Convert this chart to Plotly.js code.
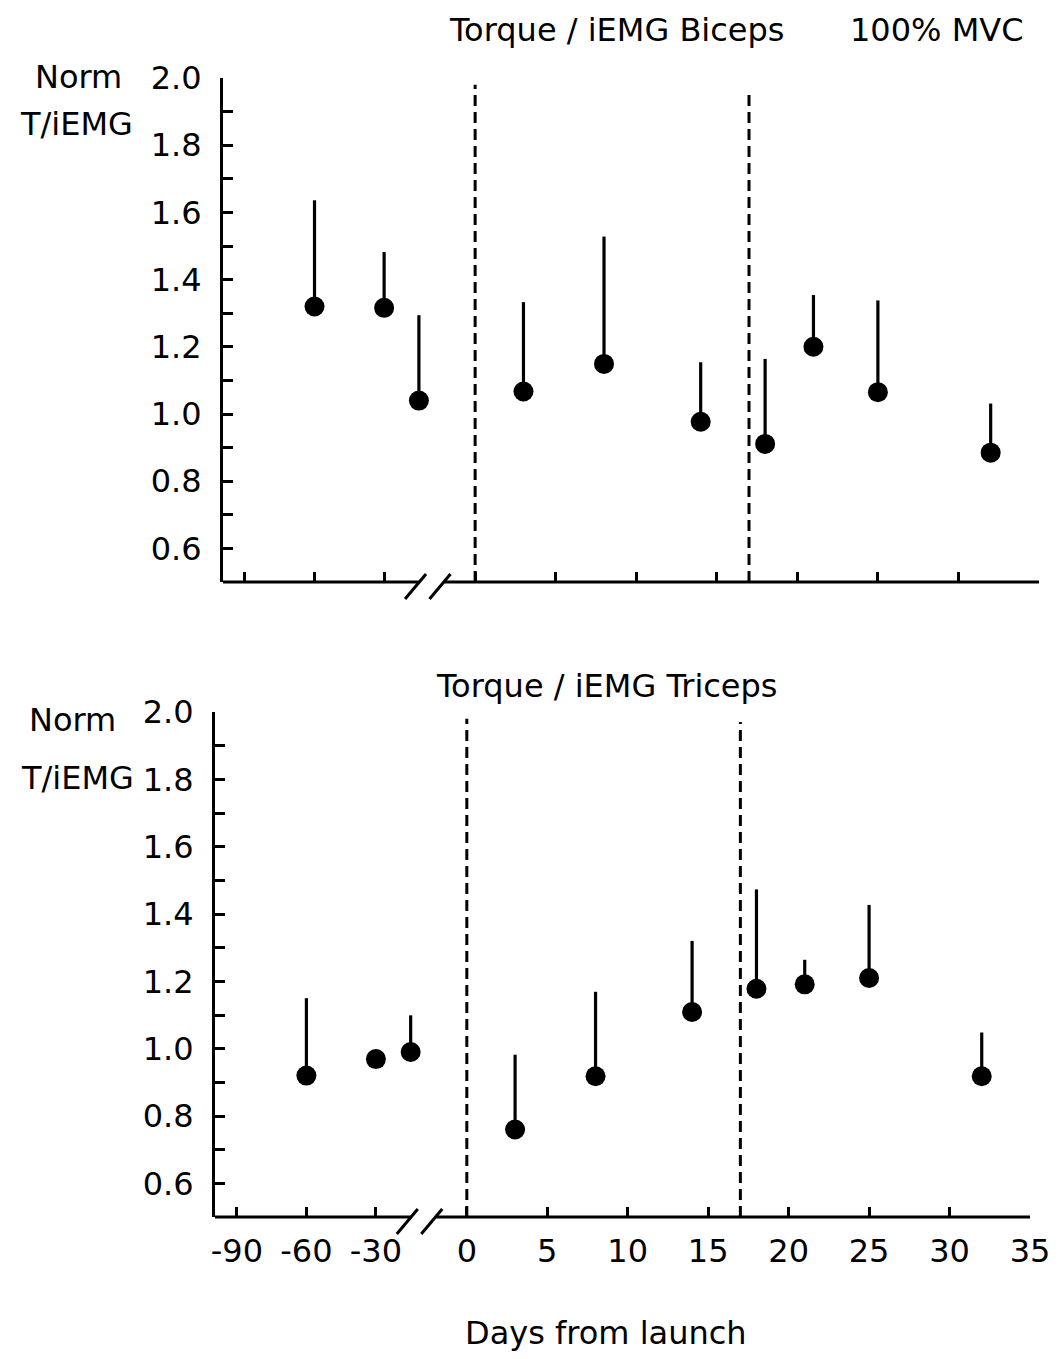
<!DOCTYPE html>
<html>
<head>
<meta charset="utf-8">
<script src="https://cdn.plot.ly/plotly-3.0.1.min.js"></script>
<style>html,body{margin:0;padding:0;background:#fff;}</style>
</head>
<body>
<div id="chart" style="width:1059px;height:1359px;"></div>
<script>
// ---- data ----
const DAYS = [-60, -30, -15, 3, 8, 14, 18, 21, 25, 32];
const BICEPS_MEAN = [1.320, 1.316, 1.040, 1.067, 1.149, 0.977, 0.911, 1.200, 1.065, 0.885];
const BICEPS_ERR  = [0.316, 0.166, 0.254, 0.266, 0.379, 0.177, 0.253, 0.154, 0.273, 0.146];
const TRICEPS_MEAN = [0.920, 0.969, 0.990, 0.760, 0.918, 1.109, 1.178, 1.191, 1.210, 0.918];
const TRICEPS_ERR  = [0.230, 0.000, 0.109, 0.222, 0.251, 0.211, 0.295, 0.073, 0.217, 0.130];
const FLIGHT_MARKERS = [0, 17];
const X_TICK_DAYS = [-90, -60, -30, 0, 5, 10, 15, 20, 25, 30, 35];
const X_TICK_LABELS = ['-90', '-60', '-30', '0', '5', '10', '15', '20', '25', '30', '35'];
const Y_TICK_VALUES = [0.6, 0.7, 0.8, 0.9, 1.0, 1.1, 1.2, 1.3, 1.4, 1.5, 1.6, 1.7, 1.8, 1.9, 2.0];
const Y_TICK_LABELS = ['0.6', '', '0.8', '', '1.0', '', '1.2', '', '1.4', '', '1.6', '', '1.8', '', '2.0'];

// ---- layout helpers ----
const W = 1059, H = 1359;
const FONT = 'DejaVu Sans, Arial, sans-serif';
const X_RANGE = [-15.65, 35];
const Y_RANGE = [0.5, 2.0];
// broken axis: pre-launch days are compressed
function toAxis(d) { return d >= 0 ? d : -1.33 + 0.144 * d; }
const BREAK_AT = [-3.42, -1.9];

const panels = [
  {xa: 'x', ya: 'y', xpx: [223, 1039], ypx: [78, 582], mean: BICEPS_MEAN, err: BICEPS_ERR, dashTop: [1.98, 1.95], labels: false},
  {xa: 'x2', ya: 'y2', xpx: [215, 1030], ypx: [712, 1217], mean: TRICEPS_MEAN, err: TRICEPS_ERR, dashTop: [1.98, 1.97], labels: true}
];

const traces = [];
const shapes = [];
const layout = {
  width: W, height: H,
  margin: {l: 0, r: 0, t: 0, b: 0},
  paper_bgcolor: '#fff', plot_bgcolor: '#fff',
  showlegend: false,
  font: {family: FONT, size: 32, color: '#000'},
  shapes: shapes,
  annotations: []
};

panels.forEach(function (p, i) {
  const sfx = i === 0 ? '' : '2';
  traces.push({
    type: 'scatter', mode: 'markers',
    x: DAYS.map(toAxis), y: p.mean,
    xaxis: p.xa, yaxis: p.ya,
    marker: {size: 20, color: '#000'},
    error_y: {type: 'data', symmetric: false, array: p.err, arrayminus: p.err.map(function () { return 0; }),
              width: 0, thickness: 3.2, color: '#000'},
    cliponaxis: false, hoverinfo: 'x+y'
  });
  layout['xaxis' + sfx] = {
    domain: [p.xpx[0] / W, p.xpx[1] / W], range: X_RANGE, anchor: p.ya,
    showgrid: false, zeroline: false, showline: false,
    tickmode: 'array', tickvals: X_TICK_DAYS.map(toAxis), ticktext: X_TICK_LABELS,
    ticks: 'inside', ticklen: 10, tickwidth: 3, tickcolor: '#000',
    showticklabels: p.labels, ticklabelstandoff: 12,
    tickfont: {family: FONT, size: 32, color: '#000'}
  };
  layout['yaxis' + sfx] = {
    domain: [1 - p.ypx[1] / H, 1 - p.ypx[0] / H], range: Y_RANGE, anchor: p.xa,
    showgrid: false, zeroline: false, showline: true, linewidth: 3, linecolor: '#000',
    tickmode: 'array', tickvals: Y_TICK_VALUES, ticktext: Y_TICK_LABELS,
    ticks: 'inside', ticklen: 10, tickwidth: 3, tickcolor: '#000',
    ticklabelstandoff: 12,
    tickfont: {family: FONT, size: 32, color: '#000'}
  };
  const wpx = p.xpx[1] - p.xpx[0], hpx = p.ypx[1] - p.ypx[0];
  const frac = function (u) { return (u - X_RANGE[0]) / (X_RANGE[1] - X_RANGE[0]); };
  const xd = p.xa + ' domain', yd = p.ya + ' domain';
  // broken x-axis line
  shapes.push({type: 'line', xref: xd, yref: yd, x0: 0, x1: frac(BREAK_AT[0]), y0: 0, y1: 0, line: {color: '#000', width: 3}});
  shapes.push({type: 'line', xref: xd, yref: yd, x0: frac(BREAK_AT[1]), x1: 1, y0: 0, y1: 0, line: {color: '#000', width: 3}});
  // break slashes
  BREAK_AT.forEach(function (u) {
    const f = frac(u);
    shapes.push({type: 'line', xref: xd, yref: yd,
      x0: f - 15 / wpx, y0: -17 / hpx, x1: f + 6 / wpx, y1: 8 / hpx,
      line: {color: '#000', width: 3}});
  });
  // dashed flight markers
  FLIGHT_MARKERS.forEach(function (d, k) {
    shapes.push({type: 'line', xref: p.xa, yref: p.ya,
      x0: toAxis(d), x1: toAxis(d), y0: Y_RANGE[0], y1: p.dashTop[k],
      line: {color: '#000', width: 3, dash: '11px,6px'}});
  });
});

function ann(text, px, py, size) {
  return {text: text, x: px / W, y: 1 - py / H, xref: 'paper', yref: 'paper',
          xanchor: 'center', yanchor: 'middle', showarrow: false,
          font: {family: FONT, size: size || 32, color: '#000'}};
}
layout.annotations = [
  ann('Torque / iEMG Biceps', 616, 30),
  ann('100% MVC', 937, 30),
  ann('Norm', 78, 77),
  ann('T/iEMG', 76, 124),
  ann('Torque / iEMG Triceps', 607, 686),
  ann('Norm', 72, 720),
  ann('T/iEMG', 77, 778),
  ann('Days from launch', 606, 1333)
];

Plotly.newPlot('chart', traces, layout, {displayModeBar: false, staticPlot: true});
</script>
</body>
</html>
